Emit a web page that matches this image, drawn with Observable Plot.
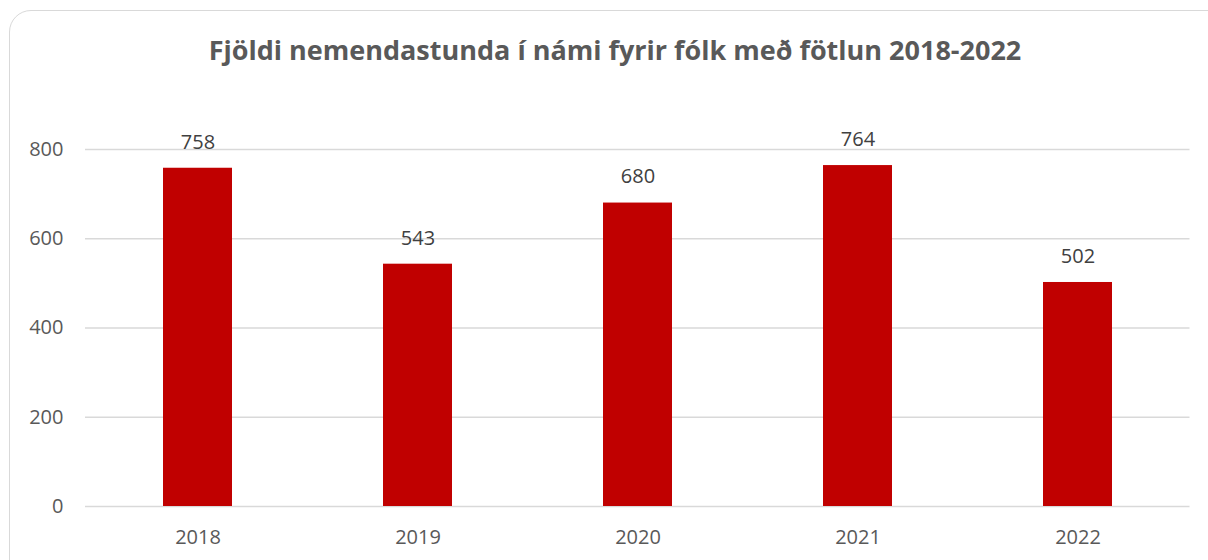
<!DOCTYPE html>
<html>
<head>
<meta charset="utf-8">
<script src="https://cdn.jsdelivr.net/npm/d3@7"></script>
<script src="https://cdn.jsdelivr.net/npm/@observablehq/plot@0.6"></script>
<style>
  html, body { margin: 0; padding: 0; background: #fff; overflow: hidden; }
  #wrap { position: relative; width: 1208px; height: 560px; overflow: hidden; font-family: "Open Sans", "Noto Sans", sans-serif; }
  #frame { position: absolute; left: 9px; top: 10px; width: 1230px; height: 575px; border: 1.5px solid #d9d9d9; border-radius: 22px; box-sizing: border-box; }
  #title { position: absolute; left: 0; width: 1230px; top: 32px; text-align: center; font-size: 27px; font-weight: 700; color: #595959; margin: 0; line-height: 36px; }
  #chart { position: absolute; left: 0; top: 80px; }
</style>
</head>
<body>
<div id="wrap">
  <div id="frame"></div>
  <h2 id="title">Fjöldi nemendastunda í námi fyrir fólk með fötlun 2018-2022</h2>
  <div id="chart"></div>
</div>
<script>
const years = ["2018", "2019", "2020", "2021", "2022"];
const hours = [758, 543, 680, 764, 502];
const yTicks = [0, 200, 400, 600, 800];

const data = years.map((y, i) => ({year: y, value: hours[i]}));

const chart = Plot.plot({
  width: 1208,
  height: 480,
  marginTop: 69,
  marginBottom: 54,
  marginLeft: 85,
  marginRight: 18.5,
  style: {fontFamily: "'Open Sans', 'Noto Sans', sans-serif", fontSize: "20px", color: "#595959", background: "transparent"},
  x: {domain: years, paddingInner: 0.685, paddingOuter: 0.3425, label: null},
  y: {domain: [0, 800], label: null},
  marks: [
    Plot.ruleY(yTicks, {stroke: "#d9d9d9", strokeWidth: 1.5}),
    Plot.barY(data, {x: "year", y: "value", fill: "#c00000"}),
    Plot.text(data, {x: "year", y: "value", text: d => String(d.value), dy: -26, fill: "#404040", fontSize: 20}),
    Plot.axisX({tickSize: 0, tickPadding: 23, fontSize: 20, fill: "#595959"}),
    Plot.axisY({ticks: yTicks, tickSize: 0, tickPadding: 22, fontSize: 20, fill: "#595959"})
  ]
});
document.getElementById("chart").appendChild(chart);
</script>
</body>
</html>
